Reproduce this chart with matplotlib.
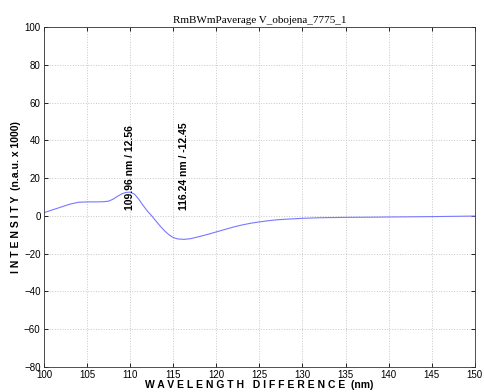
import matplotlib
matplotlib.use("Agg")
import matplotlib.pyplot as plt
from matplotlib import font_manager as fm

wavelength = [100, 101, 102, 103, 104, 105, 106, 107, 107.5, 108, 108.5, 109, 109.5, 109.96,
              110.5, 111, 111.5, 112, 112.5, 113, 113.5, 114, 114.5, 115, 115.5, 116.24, 117,
              118, 119, 120, 121, 122, 123, 124, 125, 126, 127, 128, 130, 132, 135, 138, 140,
              145, 150]
intensity = [1.7, 3.2, 4.7, 6.2, 7.2, 7.4, 7.4, 7.5, 7.8, 8.8, 10.3, 11.6, 12.4, 12.56,
             11.5, 8.8, 5.5, 2.5, 0.0, -2.8, -5.5, -8.0, -10.0, -11.5, -12.2, -12.45, -12.1,
             -11.0, -9.8, -8.5, -7.2, -5.9, -4.8, -3.9, -3.2, -2.6, -2.1, -1.8, -1.3, -1.0,
             -0.8, -0.7, -0.6, -0.4, -0.1]
peak_x = [109.96, 116.24]
peak_labels = ["109.96 nm / 12.56", "116.24 nm / -12.45"]
xticks = list(range(100, 151, 5))
yticks = list(range(-80, 101, 20))
title = "RmBWmPaverage V_obojena_7775_1"
xlabel = "W A V E L E N G T H   D I F F E R E N C E  (nm)"
ylabel = "I N T E N S I T Y  (n.a.u. x 1000)"


def find_font(name, fallback):
    for f in fm.findSystemFonts():
        if f.split("/")[-1] == name:
            return fm.FontProperties(fname=f)
    return fm.FontProperties(family=fallback)


sans = find_font("LiberationSans-Regular.ttf", "sans-serif")
sans_b = find_font("LiberationSans-Bold.ttf", "sans-serif")
serif = find_font("LiberationSerif-Regular.ttf", "serif")


def fp(base, size):
    p = base.copy()
    p.set_size(size)
    return p


fig = plt.figure(figsize=(4.84, 3.92), dpi=100)
ax = fig.add_axes([0.091, 0.064, 0.890, 0.867])
ax.plot(wavelength, intensity, color="#7878ff", lw=0.8)
ax.set_xlim(100, 150)
ax.set_ylim(-80, 100)
ax.set_xticks(xticks)
ax.set_yticks(yticks)
ax.grid(True, color="#c8c8c8", linestyle=":", linewidth=0.7)
ax.tick_params(direction="in", length=3, width=0.6, top=True, right=True,
               labeltop=False, labelright=False, pad=2.5)
for lab in ax.get_xticklabels() + ax.get_yticklabels():
    lab.set_fontproperties(fp(sans, 7))
for s in ax.spines.values():
    s.set_linewidth(0.6)
    s.set_color("#333333")
ax.set_title(title, fontproperties=fp(serif, 8), pad=3)
ax.set_xlabel(xlabel, fontproperties=fp(sans_b, 7.5), labelpad=0)
ax.set_ylabel(ylabel, fontproperties=fp(sans_b, 7.5), labelpad=2)
for px, lbl in zip(peak_x, peak_labels):
    ax.text(px, 3, lbl, rotation=90, ha="center", va="bottom",
            fontproperties=fp(sans_b, 7.5))
fig.savefig("out.png", dpi=100)
